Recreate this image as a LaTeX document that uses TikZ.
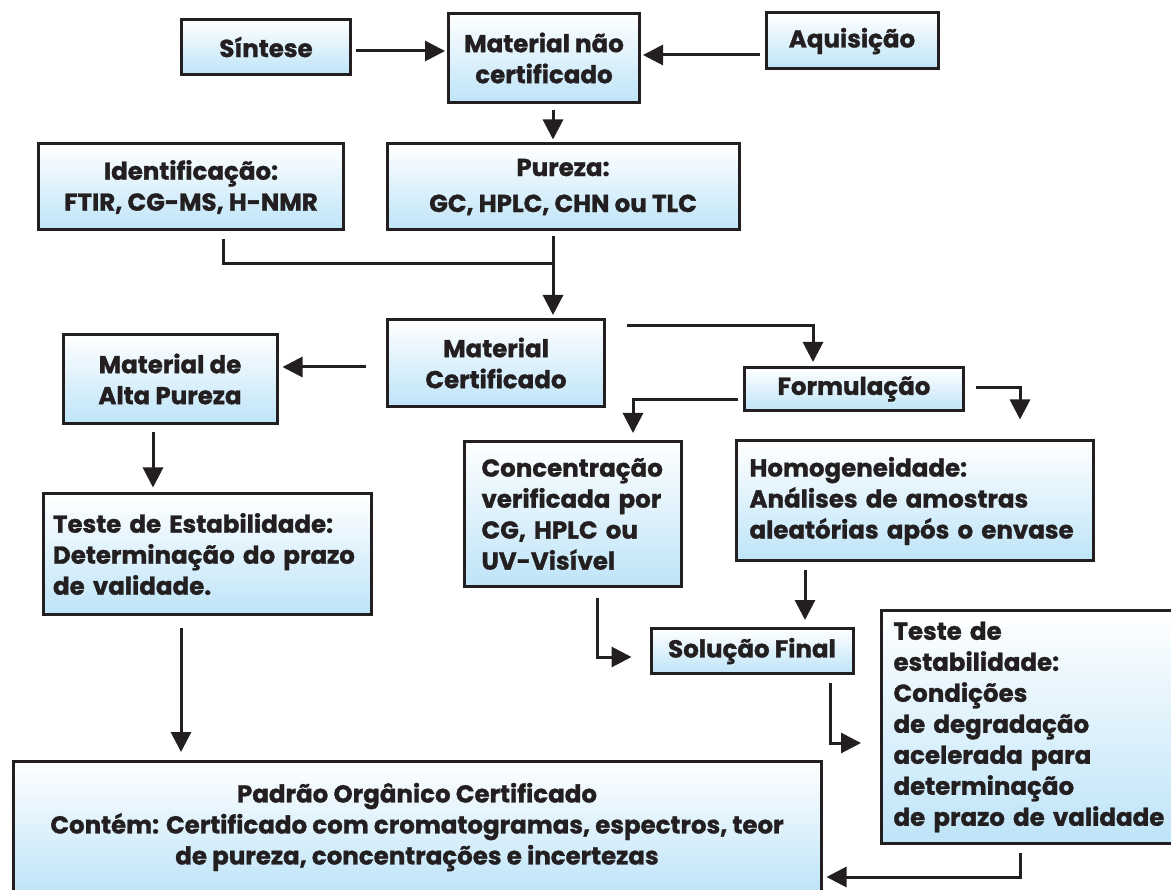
\documentclass[tikz,border=0pt]{standalone}
\usepackage{fontspec}
\setmainfont{Poppins}[BoldFeatures={FakeBold=1.2}]
\usetikzlibrary{positioning, arrows.meta, calc}
\definecolor{boxblue}{HTML}{BEE4F8}
\definecolor{boxstroke}{HTML}{231F20}

\begin{document}
\begin{tikzpicture}[
  x=1pt, y=-1pt,
  every node/.style={font=\fontsize{24.5}{31}\selectfont\bfseries, text=boxstroke},
  >={Triangle[length=20pt, width=20pt]},
  box/.style={
    draw=boxstroke, line width=3pt,
    top color=white, bottom color=boxblue,
    inner sep=0pt, align=center
  },
  leftbox/.style={box, align=left},
  arrow/.style={->, line width=3pt, draw=boxstroke},
  link/.style={line width=3pt, draw=boxstroke}
]
\useasboundingbox (0,0) rectangle (1171,890);

% top row
\node[box, minimum width=169pt, minimum height=55pt] (sintese) at (266,47) {Síntese};
\node[box, minimum width=191pt, minimum height=89pt] (matnc) at (544,58) {Material não\\certificado};
\node[box, minimum width=172pt, minimum height=56pt] (aquis) at (852,41) {Aquisição};

% analyses
\node[box, minimum width=305pt, minimum height=86pt] (ident) at (191,187) {Identificação:\\FTIR, CG-MS, H-NMR};
\node[box, minimum width=352pt, minimum height=86pt] (pureza) at (563,187) {Pureza:\\[5pt]GC, HPLC, CHN ou TLC};

% certified material and branches
\node[box, minimum width=217pt, minimum height=87pt] (matcert) at (496,363) {Material\\Certificado};
\node[box, minimum width=214pt, minimum height=89pt] (altap) at (170,379) {Material de\\Alta Pureza};
\node[box, minimum width=219pt, minimum height=43pt] (formul) at (854,389) {Formulação};

\node[leftbox, inner xsep=17pt, text width=183pt, minimum height=145pt] (conc) at (573,514)
  {Concentração\\verificada por\\CG, HPLC ou\\UV-Visível};
\node[leftbox, inner xsep=13pt, text width=331pt, minimum height=120pt] (homog) at (915,501)
  {Homogeneidade:\\Análises de amostras\\aleatórias após o envase};
\node[leftbox, inner xsep=10pt, text width=308pt, minimum height=120pt] (testeL) at (207,554)
  {Teste de Estabilidade:\\Determinação do prazo\\de validade.};

\node[box, minimum width=202pt, minimum height=45pt] (solucao) at (752,651) {Solução Final};
\node[leftbox, inner xsep=12pt, text width=283pt, minimum height=233pt] (testeR) at (1035,727)
  {Teste de\\estabilidade:\\Condições\\de degradação\\acelerada para\\determinação\\de prazo de validade};

\node[box, minimum width=808pt, minimum height=131pt] (padrao) at (417,827)
  {Padrão Orgânico Certificado\\Contém: Certificado com cromatogramas, espectros, teor\\de pureza, concentrações e incertezas};

% connectors
\coordinate (merge) at ($(pureza.south)+(-10,32)$);
\draw[arrow] ($(sintese.east)+(4,4)$) -- ($(sintese.east -| matnc.west)+(-2,4)$);
\draw[arrow] ($(aquis.west)+(-5,14)$) -- ($(aquis.west -| matnc.east)+(2,14)$);
\draw[arrow] ($(matnc.south)+(9,6)$) -- ($(pureza.north -| matnc.south)+(9,-3)$);
\draw[link] ($(ident.south)+(32,8)$) |- (merge);
\draw[arrow] ($(pureza.south)+(-10,5)$) -- ($(matcert.north -| pureza.south)+(-10,-3)$);
\draw[arrow] ($(matcert.west)+(-20,4)$) -- ($(matcert.west -| altap.east)+(4,4)$);
\draw[arrow] ($(matcert.east)+(21,-37)$) -| ($(formul.north)+(-41,-4)$);
\draw[arrow] ($(formul.west)+(-5,11)$) -| ($(conc.north)+(60,-7)$);
\draw[arrow] ($(formul.east)+(11,-1)$) -| ($(homog.north)+(105,-20)$);
\draw[arrow] ($(altap.south)+(-17,7)$) -- ($(testeL.north -| altap.south)+(-17,-5)$);
\draw[arrow] ($(testeL.south)+(-26,12)$) -- ($(padrao.north -| testeL.south)+(-26,-8)$);
\draw[arrow] ($(conc.south)+(24,10)$) |- ($(solucao.west)+(-18,6)$);
\draw[arrow] ($(homog.south)+(-110,8)$) -- ($(solucao.north -| homog.south)+(-110,-7)$);
\draw[arrow] ($(solucao.south)+(78,8)$) |- ($(testeR.west)+(-19,16)$);
\draw[arrow] ($(testeR.south)+(-15,8)$) |- ($(padrao.east)+(4,50)$);

\end{tikzpicture}
\end{document}
